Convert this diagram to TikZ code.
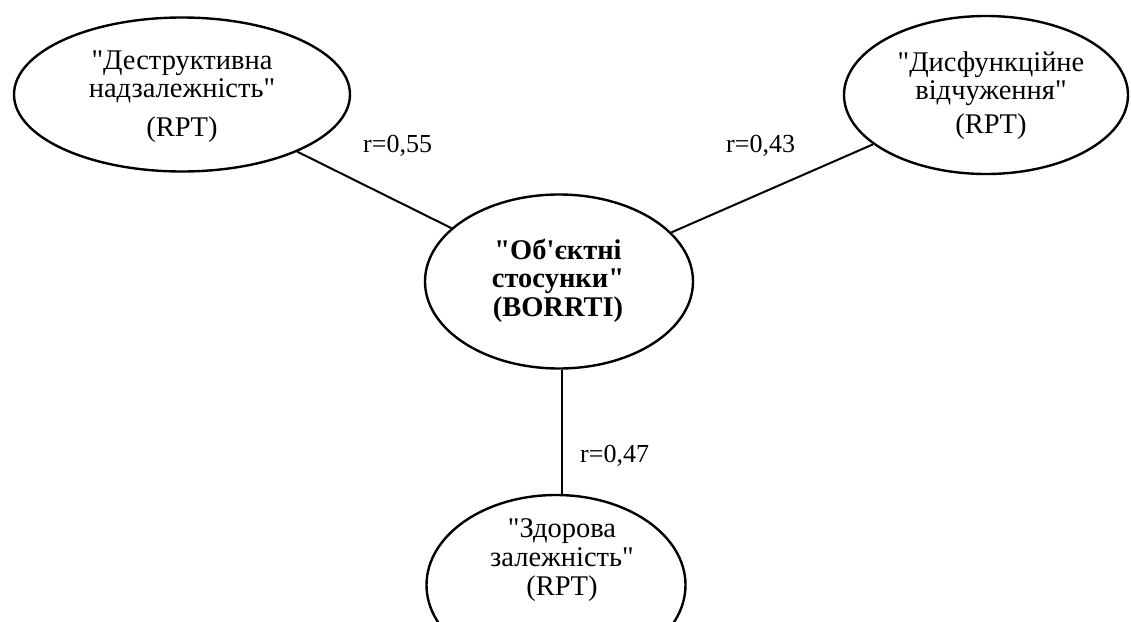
\documentclass[tikz,border=0pt]{standalone}
\usepackage{fontspec}
\setmainfont{Liberation Serif}
\usetikzlibrary{shapes.geometric}
\newcommand{\dq}{\textquotedbl}
\newcommand{\sq}{\textquotesingle}
\begin{document}
\begin{tikzpicture}[x=1pt,y=-1pt,
  oval/.style={draw, ellipse, line width=2.4pt, inner sep=0pt},
  caption/.style={align=center, font=\fontsize{28.5}{28}\selectfont, inner sep=0pt},
  link/.style={line width=2pt},
  coef/.style={font=\fontsize{26}{30}\selectfont, inner sep=0pt, anchor=base west}]
  \useasboundingbox (0,0) rectangle (1131,621);
  % ellipses
  \node[oval, minimum width=336pt, minimum height=154pt] (destr) at (182,94.5) {};
  \node[oval, minimum width=284pt, minimum height=158pt] (disf) at (986,95) {};
  \node[oval, minimum width=268pt, minimum height=174pt] (obj) at (559,281.5) {};
  \node[oval, minimum width=259pt, minimum height=180pt] (health) at (556,585) {};
  % captions
  \node[caption] (destrtxt) at (182,97) {\dq Деструктивна\\надзалежність\dq\\[11pt](RPT)};
  \node[caption] (disftxt) at (991,95.5) {\dq Дисфункційне\\відчуження\dq\\[6pt](RPT)};
  \node[caption, font=\fontsize{28.5}{28.5}\selectfont\bfseries] (objtxt) at (558,280.5) {\dq Об\sq єктні\\стосунки\dq\\(BORRTI)};
  \node[caption, font=\fontsize{28.5}{29}\selectfont] (healthtxt) at (562,560) {\dq Здорова\\залежність\dq\\(RPT)};
  % connectors
  \draw[link] (destr) -- (obj);
  \draw[link] (disf) -- (obj);
  \draw[link] (obj.south -| healthtxt) -- (health.north -| healthtxt);
  % coefficients
  \node[coef] (r1) at (363,152) {r=0,55};
  \node[coef] (r2) at (726,152) {r=0,43};
  \node[coef] (r3) at (580,462) {r=0,47};
\end{tikzpicture}
\end{document}
